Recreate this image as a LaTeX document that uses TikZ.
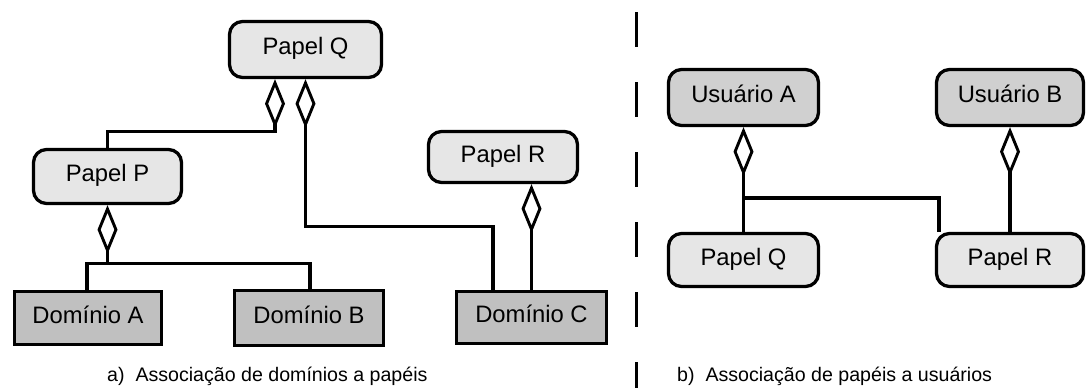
\documentclass[tikz,border=0pt]{standalone}
\usepackage{fontspec}
\setmainfont{Liberation Sans}
\usetikzlibrary{arrows.meta}

\definecolor{papelfill}{HTML}{E6E6E6}
\definecolor{dominiofill}{HTML}{C0C0C0}
\definecolor{usuariofill}{HTML}{D0D0D0}

\tikzset{
  x=1pt, y=1pt,
  box/.style={draw=black, line width=3.3pt, font=\fontsize{23.8}{26}\selectfont,
    text height=17pt, text depth=7pt, inner sep=0pt},
  papel/.style={box, fill=papelfill, rounded corners=13pt},
  usuario/.style={box, fill=usuariofill, rounded corners=13pt},
  dominio/.style={box, fill=dominiofill},
  link/.style={draw=black, line width=3.3pt},
  agg/.style={link, -{Diamond[open, length=49pt, width=20pt, line width=2.9pt]}},
  separator/.style={draw=black, line width=3.3pt, dash pattern=on 35pt off 35pt},
  caption/.style={anchor=base west, font=\fontsize{19.6}{22}\selectfont, inner sep=0pt}
}

\begin{document}
\begin{tikzpicture}
\useasboundingbox (0,-388) rectangle (1087,0);

% ---- a) domains and roles ----
\node[papel, minimum width=152pt, minimum height=56pt] (Q) at (305.5,-49.5) {Papel Q};
\node[papel, minimum width=148pt, minimum height=54pt] (P) at (107.5,-176.5) {Papel P};
\node[papel, minimum width=149pt, minimum height=51pt] (R) at (503,-157) {Papel R};
\node[dominio, minimum width=147pt, minimum height=53pt] (DA) at (88,-318) {Domínio A};
\node[dominio, minimum width=149pt, minimum height=55pt] (DB) at (309,-318) {Domínio B};
\node[dominio, minimum width=150pt, minimum height=52pt] (DC) at (531.5,-317.5) {Domínio C};

\coordinate (qa) at ([xshift=-30.5pt]Q.south);
\coordinate (pj) at ([yshift=-58pt]P.south);

\draw[agg] (P.north) |- ([yshift=-52pt]qa) -- (qa);
\draw[agg] ([xshift=-38.5pt]DC.north) |- ([yshift=-147pt]Q.south) -- (Q.south);
\draw[agg] (DC.north) -- (DC.north |- R.south);
\draw[agg] ([xshift=-1pt]DA.north) |- (pj) -- (P.south);
\draw[link] ([xshift=1pt]DB.north) |- (pj);

% ---- separator ----
\draw[separator] (636.5,-12) -- (636.5,-388);

% ---- b) roles and users ----
\node[usuario, minimum width=150pt, minimum height=56pt] (UA) at (743.5,-97.5) {Usuário A};
\node[usuario, minimum width=147pt, minimum height=56pt] (UB) at (1010,-97.5) {Usuário B};
\node[papel, minimum width=150pt, minimum height=53pt] (PQ) at (743.5,-260) {Papel Q};
\node[papel, minimum width=147pt, minimum height=53pt] (PR) at (1010,-260) {Papel R};

\draw[agg] (PQ.north) -- (UA.south);
\draw[link] ([yshift=34pt]PQ.north) -| ([xshift=-71pt]PR.north);
\draw[agg] (PR.north) -- (UB.south);

% ---- captions ----
\node[caption] (capa) at (107,-381) {a)\ \ Associação de domínios a papéis};
\node[caption] (capb) at (677,-381) {b)\ \ Associação de papéis a usuários};
\end{tikzpicture}
\end{document}
